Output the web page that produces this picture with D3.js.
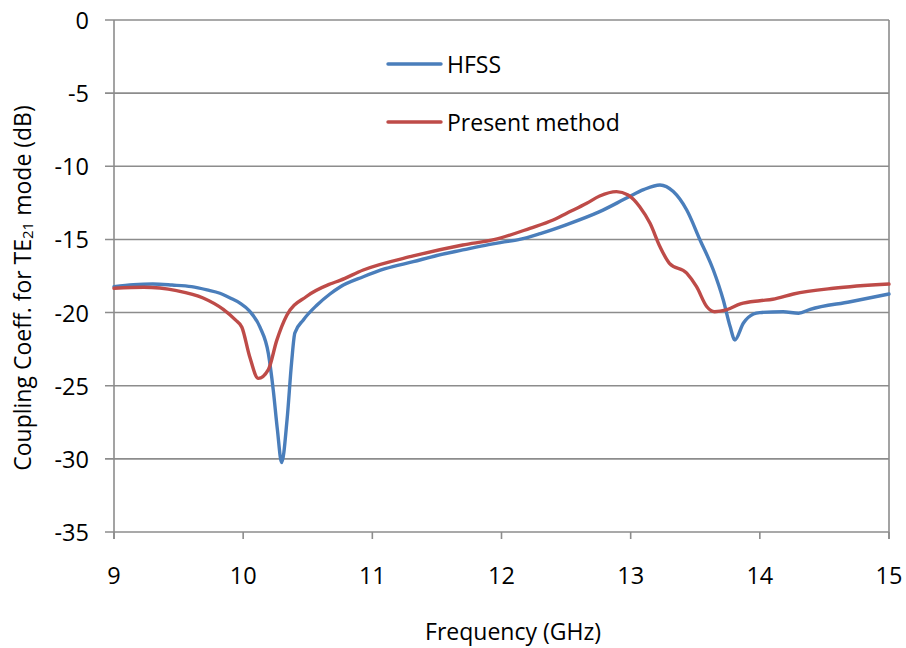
<!DOCTYPE html>
<html>
<head>
<meta charset="utf-8">
<script src="https://cdn.jsdelivr.net/npm/d3@7"></script>
<style>
  html, body { margin: 0; padding: 0; background: #fff; }
  svg { display: block; }
  text { font-family: "Open Sans", "Noto Sans", sans-serif; fill: #000; }
</style>
</head>
<body>
<svg id="chart" width="906" height="648"></svg>
<script>
// Frequency (GHz) and coupling coefficient (dB) for each curve
const hfssFreq = [9.0, 9.15, 9.3, 9.45, 9.6, 9.72, 9.82, 9.9, 9.975, 10.05, 10.13, 10.195, 10.233, 10.265, 10.298, 10.34, 10.375, 10.40, 10.466, 10.57, 10.672, 10.75, 10.93, 11.1, 11.317, 11.5, 11.7, 11.9, 12.0, 12.14, 12.3, 12.5, 12.76, 12.98, 13.1, 13.227, 13.33, 13.434, 13.537, 13.64, 13.717, 13.77, 13.807, 13.872, 13.95, 14.0, 14.18, 14.3, 14.39, 14.7, 15.0];
const hfssDb   = [-18.23, -18.1, -18.05, -18.12, -18.23, -18.45, -18.68, -19.0, -19.35, -19.9, -21.0, -22.8, -25.3, -28.0, -30.26, -27.3, -23.4, -21.4, -20.5, -19.5, -18.73, -18.25, -17.55, -17.0, -16.52, -16.1, -15.72, -15.35, -15.2, -15.0, -14.6, -14.0, -13.1, -12.12, -11.6, -11.28, -11.73, -12.99, -15.04, -17.09, -19.14, -20.96, -21.87, -20.73, -20.1, -20.0, -19.94, -20.05, -19.78, -19.26, -18.73];

const presentFreq = [9.0, 9.23, 9.485, 9.69, 9.846, 9.94, 9.99, 10.05, 10.117, 10.195, 10.26, 10.337, 10.49, 10.672, 10.75, 10.93, 11.317, 11.7, 11.95, 12.22, 12.4, 12.505, 12.66, 12.76, 12.89, 12.98, 13.07, 13.15, 13.227, 13.3, 13.434, 13.51, 13.59, 13.65, 13.74, 13.85, 14.0, 14.1, 14.26, 14.57, 15.0];
const presentDb   = [-18.34, -18.27, -18.5, -19.0, -19.78, -20.5, -21.0, -23.0, -24.5, -23.9, -21.9, -20.2, -18.9, -18.05, -17.8, -17.09, -16.13, -15.38, -15.0, -14.24, -13.67, -13.21, -12.53, -12.03, -11.73, -11.96, -12.76, -13.9, -15.5, -16.63, -17.3, -18.23, -19.6, -19.94, -19.82, -19.41, -19.19, -19.09, -18.73, -18.34, -18.05];

const xTicks = [9, 10, 11, 12, 13, 14, 15];
const yTicks = [0, -5, -10, -15, -20, -25, -30, -35];

const seriesNames = ["HFSS", "Present method"];
const seriesColors = ["#4a7ebb", "#be4b48"];

const svg = d3.select("#chart");
const plotLeft = 114, plotRight = 889, plotTop = 20, plotBottom = 532;

const x = d3.scaleLinear().domain([9, 15]).range([plotLeft, plotRight]);
const y = d3.scaleLinear().domain([-35, 0]).range([plotBottom, plotTop]);

const gridColor = "#8c8c8c";

// horizontal gridlines
svg.append("g").selectAll("line").data(yTicks).join("line")
  .attr("x1", plotLeft - 9).attr("x2", plotRight)
  .attr("y1", d => y(d)).attr("y2", d => y(d))
  .attr("stroke", gridColor).attr("stroke-width", 1.6);

// y axis labels
svg.append("g").selectAll("text").data(yTicks).join("text")
  .attr("x", 89).attr("y", d => y(d))
  .attr("text-anchor", "end").attr("dominant-baseline", "central")
  .attr("font-size", 23.5)
  .text(d => d);

// left / right frame and bottom axis ticks
svg.append("line").attr("x1", plotLeft).attr("x2", plotLeft).attr("y1", plotTop).attr("y2", plotBottom + 7)
  .attr("stroke", gridColor).attr("stroke-width", 1.6);
svg.append("line").attr("x1", plotRight).attr("x2", plotRight).attr("y1", plotTop).attr("y2", plotBottom + 7)
  .attr("stroke", gridColor).attr("stroke-width", 1.6);
svg.append("g").selectAll("line").data(xTicks).join("line")
  .attr("x1", d => x(d)).attr("x2", d => x(d))
  .attr("y1", plotBottom).attr("y2", plotBottom + 7)
  .attr("stroke", gridColor).attr("stroke-width", 1.6);

// x axis labels
svg.append("g").selectAll("text").data(xTicks).join("text")
  .attr("x", d => x(d)).attr("y", 575)
  .attr("text-anchor", "middle").attr("dominant-baseline", "central")
  .attr("font-size", 23.5)
  .text(d => d);

// curves
const line = d3.line().x(d => x(d[0])).y(d => y(d[1])).curve(d3.curveMonotoneX);
const series = [
  d3.zip(hfssFreq, hfssDb),
  d3.zip(presentFreq, presentDb)
];
svg.append("g").selectAll("path").data(series).join("path")
  .attr("d", line)
  .attr("fill", "none")
  .attr("stroke", (d, i) => seriesColors[i])
  .attr("stroke-width", 3.4)
  .attr("stroke-linejoin", "round")
  .attr("stroke-linecap", "round");

// legend
const legendY = [64, 122];
const legend = svg.append("g").selectAll("g").data(seriesNames).join("g");
legend.append("line")
  .attr("x1", 388).attr("x2", 441)
  .attr("y1", (d, i) => legendY[i]).attr("y2", (d, i) => legendY[i])
  .attr("stroke", (d, i) => seriesColors[i]).attr("stroke-width", 3.4)
  .attr("stroke-linecap", "round");
legend.append("text")
  .attr("x", 447).attr("y", (d, i) => legendY[i])
  .attr("dominant-baseline", "central")
  .attr("font-size", 23)
  .text(d => d);

// axis titles
svg.append("text")
  .attr("x", 513).attr("y", 631)
  .attr("text-anchor", "middle").attr("dominant-baseline", "central")
  .attr("font-size", 23)
  .text("Frequency (GHz)");

const yTitle = svg.append("text")
  .attr("transform", "translate(22,288) rotate(-90)")
  .attr("text-anchor", "middle").attr("dominant-baseline", "central")
  .attr("font-size", 23);
yTitle.append("tspan").text("Coupling Coeff. for TE");
yTitle.append("tspan").attr("font-size", 15).attr("dy", 5).text("21");
yTitle.append("tspan").attr("dy", -5).text(" mode (dB)");
</script>
</body>
</html>
